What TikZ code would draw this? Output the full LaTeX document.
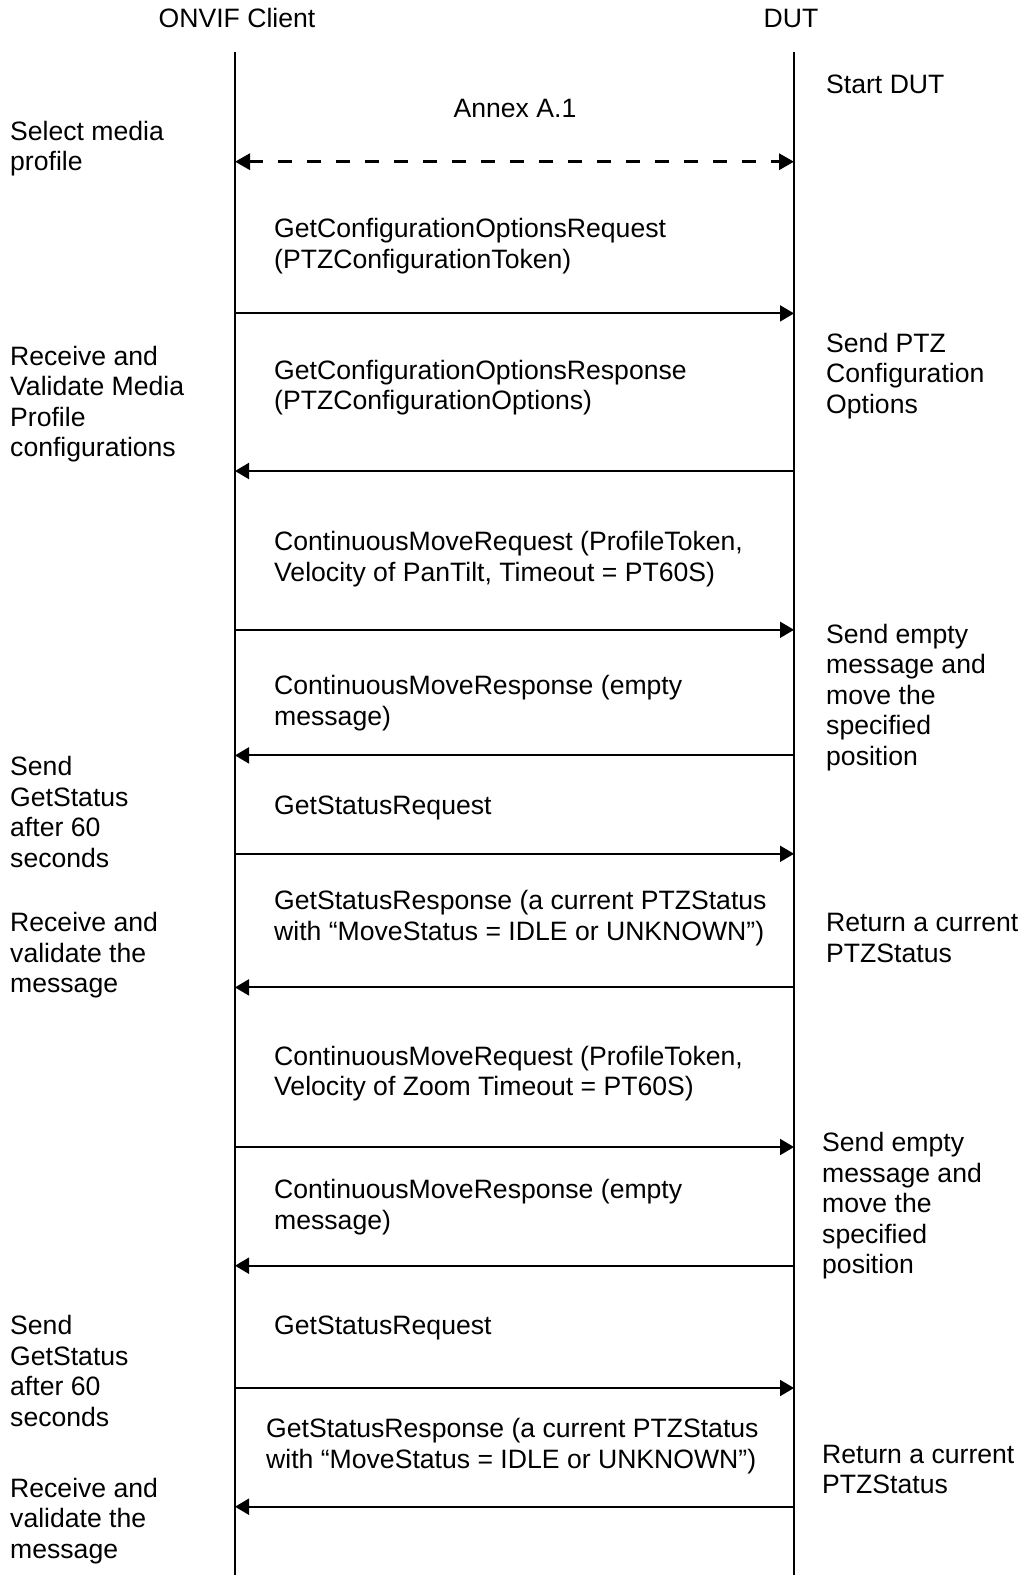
\documentclass[tikz,border=0pt]{standalone}
\usepackage{fontspec}
\setmainfont{Liberation Sans}
\usetikzlibrary{arrows.meta}

\begin{document}
\begin{tikzpicture}[
    x=1pt, y=-1pt,
    font=\fontsize{26.6}{30.5}\selectfont,
    txt/.style={anchor=base west, align=left, inner sep=0pt},
    hdr/.style={anchor=base, inner sep=0pt},
    life/.style={line width=1.5pt},
    msg/.style={-{Triangle[length=14pt,width=16pt]}, line width=2pt},
    sync/.style={{Triangle[length=15pt,width=16pt]}-{Triangle[length=15pt,width=16pt]},
                 line width=3.2pt, dash pattern=on 13.5pt off 15.5pt},
  ]
  \useasboundingbox (0,0) rectangle (1025,1575);

  % ---------- headers and lifelines ----------
  \node[hdr] (client) at (237,27.5) {ONVIF Client};
  \node[hdr] (dut) at (791,27.5) {DUT};
  \coordinate (ctop) at (235,52);
  \coordinate (cbot) at (235,1575);
  \coordinate (dtop) at (794,52);
  \coordinate (dbot) at (794,1575);
  \draw[life] (ctop) -- (cbot);
  \draw[life] (dtop) -- (dbot);

  % ---------- message rows: n / y ----------
  \foreach \n/\y in {0/161.7, 1/313.4, 2/471, 3/629.8, 4/755.4, 5/853.8,
                     6/987.4, 7/1147, 8/1265.7, 9/1388, 10/1506.7} {
    \coordinate (c\n) at (235,\y);
    \coordinate (d\n) at (794,\y);
  }

  % (multi-line nodes: base = last line)

  % ---------- Annex A.1 ----------
  \node[hdr] (annex) at (515,117) {Annex A.1};
  \node[txt] (startdut) at (826,93.9) {Start DUT};
  \node[txt] (selprof) at (10,170.6) {Select media\\profile};
  \draw[sync] (c0) -- (d0);

  % ---------- GetConfigurationOptions ----------
  \node[txt] (gcoreq) at (274,268) {GetConfigurationOptionsRequest\\(PTZConfigurationToken)};
  \draw[msg] (c1) -- (d1);
  \node[txt] (recvcfg) at (10,456.6) {Receive and\\Validate Media\\Profile\\configurations};
  \node[txt] (gcores) at (274,409.7) {GetConfigurationOptionsResponse\\(PTZConfigurationOptions)};
  \node[txt] (sendcfg) at (826,413) {Send PTZ\\Configuration\\Options};
  \draw[msg] (d2) -- (c2);

  % ---------- ContinuousMove PanTilt ----------
  \node[txt] (cmreq1) at (274,581.4) {ContinuousMoveRequest (ProfileToken,\\Velocity of PanTilt, Timeout = PT60S)};
  \draw[msg] (c3) -- (d3);
  \node[txt] (move1) at (826,765.3) {Send empty\\message and\\move the\\specified\\position};
  \node[txt] (cmres1) at (274,725) {ContinuousMoveResponse (empty\\message)};
  \draw[msg] (d4) -- (c4);

  % ---------- GetStatus 1 ----------
  \node[txt] (sendgs1) at (10,867.4) {Send\\GetStatus\\after 60\\seconds};
  \node[txt] (gsreq1) at (274,814.1) {GetStatusRequest};
  \draw[msg] (c5) -- (d5);
  \node[txt] (gsres1) at (274,940) {GetStatusResponse (a current PTZStatus\\with “MoveStatus = IDLE or UNKNOWN”)};
  \node[txt] (valid1) at (10,992.5) {Receive and\\validate the\\message};
  \node[txt] (retst1) at (826,962) {Return a current\\PTZStatus};
  \draw[msg] (d6) -- (c6);

  % ---------- ContinuousMove Zoom ----------
  \node[txt] (cmreq2) at (274,1095.7) {ContinuousMoveRequest (ProfileToken,\\Velocity of Zoom Timeout = PT60S)};
  \draw[msg] (c7) -- (d7);
  \node[txt] (move2) at (822,1273.5) {Send empty\\message and\\move the\\specified\\position};
  \node[txt] (cmres2) at (274,1229.3) {ContinuousMoveResponse (empty\\message)};
  \draw[msg] (d8) -- (c8);

  % ---------- GetStatus 2 ----------
  \node[txt] (sendgs2) at (10,1426) {Send\\GetStatus\\after 60\\seconds};
  \node[txt] (gsreq2) at (274,1334.5) {GetStatusRequest};
  \draw[msg] (c9) -- (d9);
  \node[txt] (gsres2) at (266,1468.4) {GetStatusResponse (a current PTZStatus\\with “MoveStatus = IDLE or UNKNOWN”)};
  \node[txt] (retst2) at (822,1493.5) {Return a current\\PTZStatus};
  \node[txt] (valid2) at (10,1558.1) {Receive and\\validate the\\message};
  \draw[msg] (d10) -- (c10);

\end{tikzpicture}
\end{document}
